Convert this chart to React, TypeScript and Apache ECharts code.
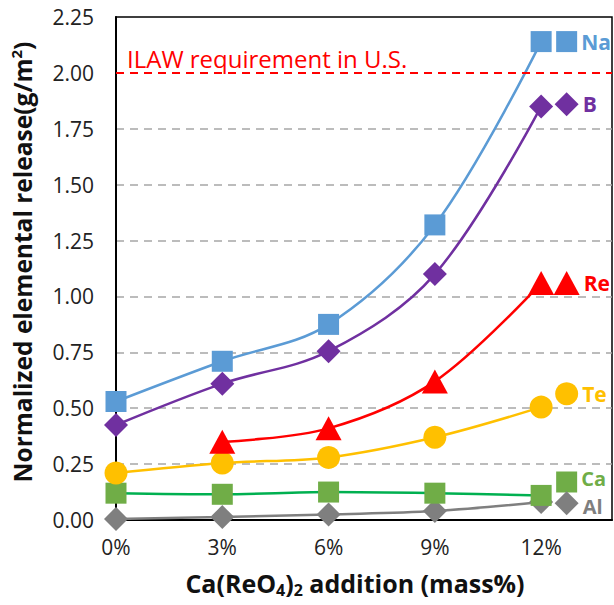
import React, { useEffect, useRef } from "react";
import * as echarts from "echarts";

const xPct = [0, 3, 6, 9, 12];
const naVals = [0.53, 0.71, 0.875, 1.32, 2.14];
const bVals = [0.425, 0.61, 0.755, 1.1, 1.85];
const reVals: (number | null)[] = [null, 0.35, 0.41, 0.62, 1.06];
const teVals = [0.21, 0.255, 0.28, 0.37, 0.505];
const caVals = [0.12, 0.115, 0.125, 0.12, 0.11];
const alVals = [0.005, 0.013, 0.025, 0.04, 0.08];

const labelX = 12.72;
const labelNames = ["Na", "B", "Re", "Te", "Ca", "Al"];
const labelVals = [2.14, 1.86, 1.06, 0.565, 0.17, 0.075];

const yTicks = [0, 0.25, 0.5, 0.75, 1.0, 1.25, 1.5, 1.75, 2.0, 2.25];
const limitValue = 2.0;
const limitText = "ILAW requirement in U.S.";

const FONT = "'Open Sans', 'Noto Sans', sans-serif";

export default function App() {
  const ref = useRef<HTMLDivElement>(null);
  useEffect(() => {
    if (!ref.current) return;
    const chart = echarts.init(ref.current, undefined, { renderer: "svg" });

    const mk = (vals: (number | null)[]) => xPct.map((x, i) => [x, vals[i]]);

    const lineSeries = (
      name: string,
      vals: (number | null)[],
      lineColor: string,
      markerColor: string,
      symbol: string,
      size: number | number[]
    ) => ({
      type: "line",
      name,
      data: mk(vals).filter((d) => d[1] !== null),
      smooth: 0.35,
      symbol,
      symbolSize: size,
      lineStyle: { color: lineColor, width: 2.5 },
      itemStyle: { color: markerColor, opacity: 1 },
      z: 3,
    });

    const styleFor: Record<string, { color: string; symbol: string; size: any; dy: number; fs: number }> = {
      Na: { color: "#5B9BD5", symbol: "rect", size: 21, dy: 0, fs: 21 },
      B: { color: "#7030A0", symbol: "diamond", size: 24, dy: 0, fs: 21 },
      Re: { color: "#FF0000", symbol: "triangle", size: [26, 24], dy: 0, fs: 21 },
      Te: { color: "#FFC000", symbol: "circle", size: 23, dy: 0, fs: 21 },
      Ca: { color: "#70AD47", symbol: "rect", size: 21, dy: -3, fs: 20 },
      Al: { color: "#7F7F7F", symbol: "diamond", size: 24, dy: 3, fs: 20 },
    };

    const labelSeries = labelNames.map((n, i) => ({
      type: "scatter",
      name: n + "-label",
      data: [[labelX, labelVals[i]]],
      symbol: styleFor[n].symbol,
      symbolSize: styleFor[n].size,
      itemStyle: { color: styleFor[n].color, opacity: 1 },
      label: {
        show: true,
        position: "right",
        distance: 4,
        offset: [0, styleFor[n].dy],
        formatter: n,
        color: styleFor[n].color,
        fontWeight: "bold",
        fontSize: styleFor[n].fs,
        lineHeight: 18,
        fontFamily: FONT,
      },
      z: 4,
    }));

    const gridColors = yTicks.map((v, i) =>
      i === 0 || i === yTicks.length - 1 || v === limitValue ? "rgba(0,0,0,0)" : "#A6A6A6"
    );

    chart.setOption({
      animation: false,
      grid: {
        left: 116,
        right: 2,
        top: 17,
        bottom: 85,
        show: true,
        borderColor: "#000",
        borderWidth: 1.5,
        backgroundColor: "#fff",
      },
      xAxis: {
        type: "value",
        min: 0,
        max: 14,
        interval: 3,
        axisLine: { show: true, onZero: false, lineStyle: { color: "#000", width: 2 } },
        axisTick: { show: false },
        splitLine: { show: false },
        axisLabel: {
          formatter: (v: number) => (v % 3 === 0 && v <= 12 ? v + "%" : ""),
          color: "#222",
          fontSize: 21,
          fontFamily: FONT,
          margin: 16,
          showMaxLabel: false,
        },
      },
      yAxis: {
        type: "value",
        min: 0,
        max: 2.25,
        interval: 0.25,
        axisLine: { show: true, lineStyle: { color: "#000", width: 2 } },
        axisTick: { show: false },
        splitLine: {
          show: true,
          lineStyle: { color: gridColors, type: [8, 6], width: 1.5 },
        },
        axisLabel: {
          formatter: (v: number) => v.toFixed(2),
          color: "#222",
          fontSize: 21,
          fontFamily: FONT,
          margin: 22,
        },
      },
      graphic: [
        {
          type: "text",
          x: 355,
          y: 583,
          style: {
            text: "{t|Ca(ReO}{s|4}{t|)}{s|2}{t| addition (mass%)}",
            align: "center",
            verticalAlign: "middle",
            rich: {
              t: { fontSize: 25, fontWeight: "bold", fontFamily: FONT, fill: "#111" },
              s: { fontSize: 16, fontWeight: "bold", fontFamily: FONT, fill: "#111", padding: [13, 0, 0, 0] },
            },
          },
        },
        {
          type: "text",
          x: 22,
          y: 262,
          rotation: Math.PI / 2,
          style: {
            text: "{t|Normalized elemental release(g/m}{p|2}{t|)}",
            align: "center",
            verticalAlign: "middle",
            rich: {
              t: { fontSize: 24.5, fontWeight: "bold", fontFamily: FONT, fill: "#111" },
              p: { fontSize: 15, fontWeight: "bold", fontFamily: FONT, fill: "#111", padding: [0, 0, 13, 0] },
            },
          },
        },
      ],
      series: [
        {
          ...lineSeries("Al", alVals, "#7F7F7F", "#7F7F7F", "diamond", 24),
          markLine: {
            silent: true,
            symbol: "none",
            lineStyle: { color: "#FF0000", type: [8, 6], width: 2 },
            label: {
              show: true,
              position: "insideStartTop",
              formatter: limitText,
              color: "#FF0000",
              fontSize: 24,
              fontFamily: FONT,
              distance: [11, 2],
            },
            data: [{ yAxis: limitValue }],
          },
        },
        lineSeries("Ca", caVals, "#00B050", "#70AD47", "rect", 21),
        lineSeries("Te", teVals, "#FFC000", "#FFC000", "circle", 23),
        lineSeries("Re", reVals, "#FF0000", "#FF0000", "triangle", [26, 24]),
        lineSeries("B", bVals, "#7030A0", "#7030A0", "diamond", 24),
        lineSeries("Na", naVals, "#5B9BD5", "#5B9BD5", "rect", 21),
        ...labelSeries,
      ],
    });
    return () => chart.dispose();
  }, []);
  return <div ref={ref} style={{ width: 614, height: 605, position: "absolute", left: 0, top: 0 }} />;
}
